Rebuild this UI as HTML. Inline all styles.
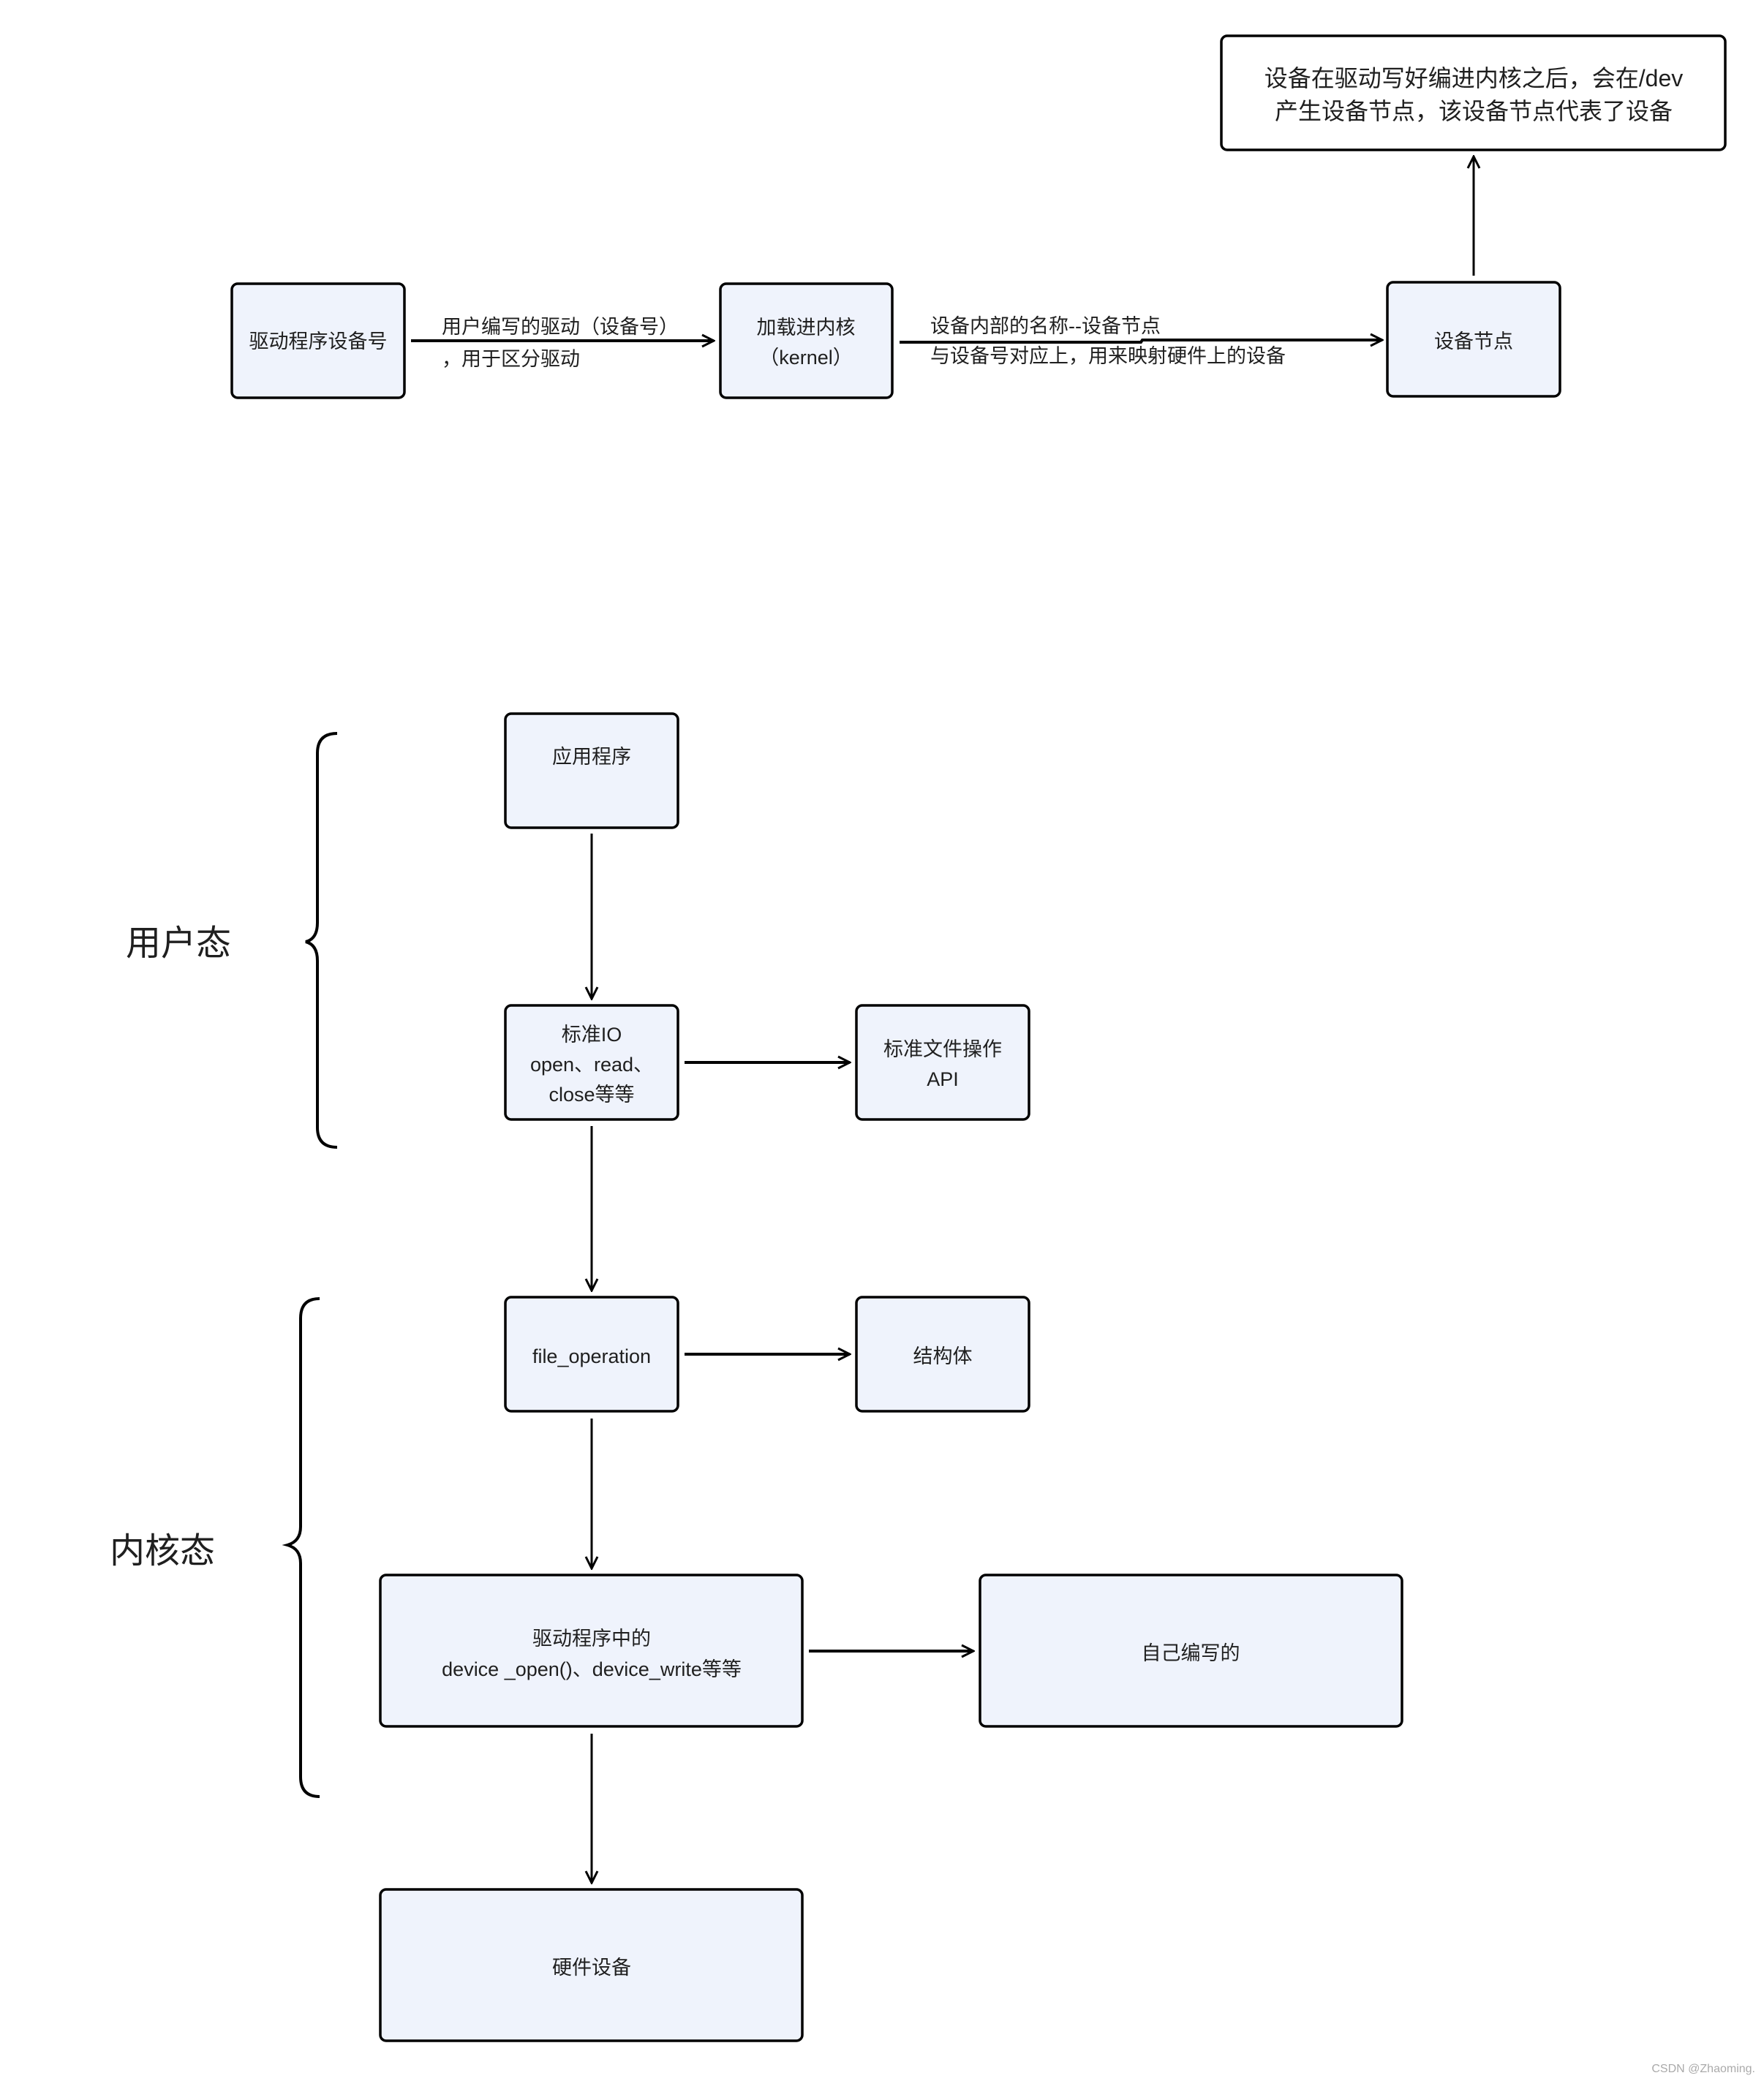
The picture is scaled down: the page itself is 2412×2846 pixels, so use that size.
<!DOCTYPE html>
<html><head><meta charset="utf-8"><style>
html,body{margin:0;padding:0;background:#fff;}
svg{display:block;}
text{font-family:"Liberation Sans","Noto Sans CJK SC",sans-serif;fill:#1f1f1f;}
</style></head><body>
<svg width="2412" height="2846" viewBox="0 0 2412 2846" xmlns="http://www.w3.org/2000/svg">
<defs>
<marker id="a" viewBox="0 0 20 20" refX="18" refY="10" markerWidth="20" markerHeight="20" markerUnits="userSpaceOnUse" orient="auto">
<path d="M2,2 L18,10 L2,18" fill="none" stroke="#000" stroke-width="3"/>
</marker>
</defs>
<g stroke="#000" stroke-width="3.5" fill="#eff3fc">
<rect x="317" y="388" width="236" height="156" rx="8"/>
<rect x="985" y="388" width="235" height="156" rx="8"/>
<rect x="1897" y="386" width="236" height="156" rx="8"/>
<rect x="1670" y="49" width="689" height="156" rx="8" fill="#fff"/>
<rect x="691" y="976" width="236" height="156" rx="8"/>
<rect x="691" y="1375" width="236" height="156" rx="8"/>
<rect x="1171" y="1375" width="236" height="156" rx="8"/>
<rect x="691" y="1774" width="236" height="156" rx="8"/>
<rect x="1171" y="1774" width="236" height="156" rx="8"/>
<rect x="520" y="2154" width="577" height="207" rx="8"/>
<rect x="1340" y="2154" width="577" height="207" rx="8"/>
<rect x="520" y="2584" width="577" height="207" rx="8"/>
</g>
<g stroke="#000" fill="none">
<line x1="562" y1="466" x2="976" y2="466" stroke-width="4" marker-end="url(#a)"/>
<polyline points="1230,468 1560,468 1562,465 1890,465" stroke-width="4" marker-end="url(#a)"/>
<line x1="2015" y1="377" x2="2015" y2="214" stroke-width="3" marker-end="url(#a)"/>
<line x1="809" y1="1140" x2="809" y2="1366" stroke-width="3" marker-end="url(#a)"/>
<line x1="936" y1="1453" x2="1162" y2="1453" stroke-width="4" marker-end="url(#a)"/>
<line x1="809" y1="1540" x2="809" y2="1765" stroke-width="3" marker-end="url(#a)"/>
<line x1="936" y1="1852" x2="1162" y2="1852" stroke-width="4" marker-end="url(#a)"/>
<line x1="809" y1="1940" x2="809" y2="2145" stroke-width="3" marker-end="url(#a)"/>
<line x1="1106" y1="2258" x2="1331" y2="2258" stroke-width="4" marker-end="url(#a)"/>
<line x1="809" y1="2371" x2="809" y2="2575" stroke-width="3" marker-end="url(#a)"/>
<path d="M461,1003 Q434,1003 434,1030 L434,1262 Q434,1284 418,1288 Q434,1292 434,1314 L434,1542 Q434,1569 461,1569" stroke-width="4"/>
<path d="M437,1776 Q411,1776 411,1803 L411,2088 Q411,2108 393,2113 Q411,2118 411,2138 L411,2430 Q411,2457 437,2457" stroke-width="4"/>
</g>
<g font-size="27" text-anchor="middle">
<text x="435" y="476">驱动程序设备号</text>
<text x="1102" y="457">加载进内核</text>
<text x="1102" y="498">（kernel）</text>
<text x="2015" y="476">设备节点</text>
<text x="809" y="1044">应用程序</text>
<text x="809" y="1424">标准IO</text>
<text x="809" y="1465">open、read、</text>
<text x="809" y="1506">close等等</text>
<text x="1289" y="1444">标准文件操作</text>
<text x="1289" y="1485">API</text>
<text x="809" y="1864">file_operation</text>
<text x="1289" y="1864">结构体</text>
<text x="809" y="2250">驱动程序中的</text>
<text x="809" y="2292">device _open()、device_write等等</text>
<text x="1628" y="2270">自己编写的</text>
<text x="809" y="2700">硬件设备</text>
</g>
<g font-size="27">
<text x="604" y="456">用户编写的驱动（设备号）</text>
<text x="604" y="500">，用于区分驱动</text>
<text x="1272" y="455">设备内部的名称--设备节点</text>
<text x="1272" y="496">与设备号对应上，用来映射硬件上的设备</text>
</g>
<g font-size="32" text-anchor="middle">
<text x="2015" y="118">设备在驱动写好编进内核之后，会在/dev</text>
<text x="2015" y="163">产生设备节点，该设备节点代表了设备</text>
</g>
<g font-size="48">
<text x="172" y="1306">用户态</text>
<text x="150" y="2137">内核态</text>
</g>
<text x="2400" y="2834" font-size="16" text-anchor="end" fill="#999" style="fill:#aaa">CSDN @Zhaoming.</text>
</svg>
</body></html>
